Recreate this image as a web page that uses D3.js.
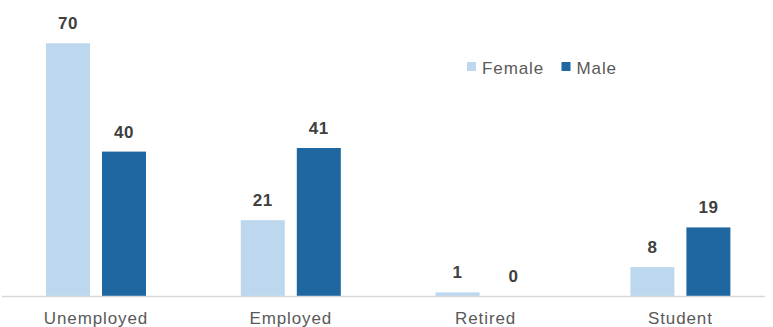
<!DOCTYPE html>
<html>
<head>
<meta charset="utf-8">
<script src="https://cdn.jsdelivr.net/npm/d3@7"></script>
<style>
  html, body { margin: 0; padding: 0; background: #fff; }
  svg { display: block; }
</style>
</head>
<body>
<svg id="chart" width="773" height="327"></svg>
<script>
// Employment status by gender
const categories = ["Unemployed", "Employed", "Retired", "Student"];
const seriesNames = ["Female", "Male"];
const femaleValues = [70, 21, 1, 8];
const maleValues = [40, 41, 0, 19];
const seriesColors = ["#bdd8ee", "#1f67a1"];

const rows = categories.map((c, i) => ({ category: c, Female: femaleValues[i], Male: maleValues[i] }));

const svg = d3.select("#chart");
const font = "'Liberation Sans', Arial, Helvetica, sans-serif";

const x = d3.scaleBand().domain(categories).range([-1.4, 777.8]).paddingInner(0).paddingOuter(0);
// inner scale: two bars of 44px with a 12px gap inside each group
const groupWidth = 100;
const xs = d3.scaleBand().domain(seriesNames).range([0, groupWidth]).paddingInner(12 / 56).paddingOuter(0);
const y = d3.scaleLinear().domain([0, 70]).range([296, 43.3]);

const color = d3.scaleOrdinal().domain(seriesNames).range(seriesColors);

const groups = svg.selectAll("g.grp").data(rows).join("g")
  .attr("class", "grp")
  .attr("transform", d => `translate(${x(d.category) + x.bandwidth() / 2 - groupWidth / 2},0)`);

groups.selectAll("rect").data(d => seriesNames.map(s => ({ s, v: d[s] }))).join("rect")
  .attr("x", d => xs(d.s))
  .attr("width", xs.bandwidth())
  .attr("y", d => y(d.v))
  .attr("height", d => y(0) - y(d.v))
  .attr("fill", d => color(d.s));

groups.selectAll("text.val").data(d => seriesNames.map(s => ({ s, v: d[s] }))).join("text")
  .attr("class", "val")
  .attr("x", d => xs(d.s) + xs.bandwidth() / 2)
  .attr("y", d => y(d.v) - 14)
  .attr("text-anchor", "middle")
  .attr("font-family", font)
  .attr("font-weight", "bold")
  .attr("font-size", 17)
  .attr("letter-spacing", 0.5)
  .attr("fill", "#404040")
  .text(d => d.v);

// baseline axis
svg.append("line")
  .attr("x1", 2).attr("x2", 765)
  .attr("y1", y(0) + 0.5).attr("y2", y(0) + 0.5)
  .attr("stroke", "#d9d9d9").attr("stroke-width", 1.3);

// category labels
const xAxis = d3.axisBottom(x).tickSize(0).tickPadding(0);
const axisG = svg.append("g").attr("transform", "translate(0,312)").call(xAxis);
axisG.select(".domain").remove();
axisG.selectAll("text")
  .attr("dy", "0.72em")
  .attr("font-family", font)
  .attr("font-size", 17)
  .attr("letter-spacing", 0.9)
  .attr("fill", "#595959");

// legend
const legend = svg.append("g");
const legendX = [467, 561.5];
seriesNames.forEach((s, i) => {
  legend.append("rect")
    .attr("x", legendX[i]).attr("y", 62)
    .attr("width", 9).attr("height", 9)
    .attr("fill", color(s));
  legend.append("text")
    .attr("x", legendX[i] + 15).attr("y", 73.5)
    .attr("font-family", font)
    .attr("font-size", 17)
    .attr("letter-spacing", 0.9)
    .attr("fill", "#595959")
    .text(s);
});
</script>
</body>
</html>
